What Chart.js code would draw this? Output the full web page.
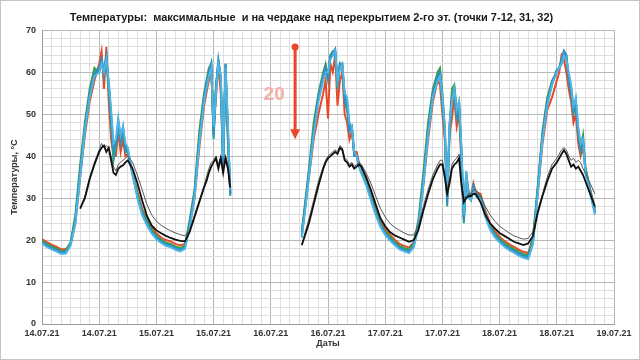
<!DOCTYPE html>
<html lang="ru">
<head>
<meta charset="utf-8">
<title>Температуры</title>
<script src="https://cdn.jsdelivr.net/npm/chart.js@4.4.1/dist/chart.umd.min.js"></script>
<style>
  html, body { margin: 0; padding: 0; background: #fff; }
  #wrap { width: 638px; height: 358px; border: 1px solid #c4c4c4; }
</style>
</head>
<body>
<div id="wrap"><canvas id="tempChart" width="638" height="358"></canvas></div>
<script>
// Время, часы от 14.07.21 00:00
const hours = [
  0, 1, 2, 3, 4, 5, 6, 7, 8, 9, 10, 11, 12,
  12.5, 13, 13.5, 14, 14.5, 15, 15.5, 16, 16.5, 17, 17.5,
  18, 19, 20, 21, 22, 23, 24, 25, 26, 27, 28, 29, 30, 31, 32, 33, 34,
  34.5, 35, 35.5, 36, 36.5, 37, 37.5, 38, 38.5, 39, 39.5,
  47,
  54.5, 55, 56, 57, 58, 59,
  59.5, 60, 60.5, 61, 61.5, 62, 62.5, 63, 63.5, 64, 64.5, 65, 65.5, 66, 66.5,
  67, 68, 69, 70, 71, 72, 73, 74, 75, 76, 77, 78, 79, 80, 81, 82, 83,
  83.5, 84, 84.5, 85, 85.5, 86, 86.5, 87, 87.5, 88, 88.5, 89, 89.5, 90, 90.5,
  91, 92, 93, 94, 95, 96, 97, 98, 99, 100, 101, 102, 103, 104, 105, 106, 107, 108,
  108.5, 109, 109.5, 110, 110.5, 111, 111.5, 112, 112.5, 113, 113.5,
  114, 115, 116
];

// Подписи оси X (каждые 12 часов)
const dateLabels = ["14.07.21", "14.07.21", "15.07.21", "15.07.21", "16.07.21", "16.07.21",
  "17.07.21", "17.07.21", "18.07.21", "18.07.21", "19.07.21"];

const t7 = [
  20.2, 19.5, 18.9, 18.4, 17.8, 17.8, 19.0, 24, 35, 45, 53, 58, 62,
  65, 56, 66, 53, 44, 40, 40, 46, 41, 44, 40,
  40.5, 36, 31.5, 27.5, 25, 23, 21.6, 20.6, 20, 19.7, 19.1, 18.7, 19.1, 23.5, 30, 42, 52,
  55, 58, 61, 46, 54, 62, 55, 39, 60, 44, 31,
  null,
  22, 26, 35, 44, 50, 55,
  58, 49, 62, 60, 64, 52, 58, 60, 50, 48, 44, 46, 41, 41, 38.5,
  37, 34.5, 31, 27.5, 24.6, 22.6, 21.3, 20.1, 19.1, 18.6, 18.2, 19.5, 24, 33, 44, 53, 58,
  57, 50, 44, 30, 45, 49, 54, 47, 50, 38, 25.5, 35.5, 31.5, 30.5, 33.5,
  31.5, 31, 27, 24, 22.1, 20.8, 19.8, 19, 18.4, 17.7, 17.2, 16.9, 20.5, 31, 43, 51, 54, 58,
  60, 64, 63, 60, 56, 53, 48, 50, 43, 40, 42,
  37, 32, 27
];
const t8 = [
  19.9, 19.1, 18.5, 18.0, 17.4, 17.5, 19.5, 26, 38, 48, 56, 61, 60,
  62, 60, 63, 57, 48, 40, 43, 47, 44, 46, 42,
  41, 36, 31, 27, 24.6, 22.5, 21.1, 20.1, 19.4, 19.1, 18.5, 18.1, 18.7, 25, 32, 46, 55,
  58, 61, 62, 46, 57, 62, 59, 38, 61, 46, 31,
  null,
  22, 27, 37, 48, 55, 60,
  62, 59, 64, 65, 65, 57, 62, 61, 54, 52, 47, 47, 41, 40, 38,
  36.5, 34, 30.5, 27, 24, 22, 20.8, 19.6, 18.6, 18.1, 17.7, 19.3, 25, 36, 48, 56, 60,
  61, 55, 47, 30, 47, 56, 57, 51, 53, 41, 25, 35, 31, 30, 33,
  31, 30.5, 26.5, 23.5, 21.5, 20.3, 19.3, 18.5, 17.9, 17.2, 16.7, 16.4, 20.5, 33, 46, 54, 58, 60,
  61, 62, 64, 63, 59, 55, 51, 52, 46, 42, 45,
  37.5, 32, 27.5
];
const t9 = [
  19.6, 18.8, 18.2, 17.7, 17.1, 17.2, 19.1, 25, 36, 46, 55, 60, 61,
  63, 59, 64, 56, 48, 39, 42, 48, 43, 46, 41,
  41, 36, 30.5, 26.5, 24, 22, 20.7, 19.7, 19, 18.7, 18.1, 17.7, 18.3, 24, 31, 44, 54,
  57, 60, 62, 44, 56, 63, 58, 36, 62, 44, 30.5,
  null,
  21, 26, 36, 46, 54, 59,
  61, 58, 64, 64, 65, 56, 62, 62, 53, 51, 46, 47, 40, 40, 37.5,
  36, 33.5, 30, 26.5, 23.6, 21.7, 20.4, 19.2, 18.2, 17.7, 17.3, 18.8, 24, 34, 46, 55, 59,
  60, 52, 46, 28, 46, 54, 55, 49, 52, 40, 24, 34.5, 30.5, 29.5, 32.5,
  30.5, 30, 26, 23, 21.2, 19.9, 18.9, 18.1, 17.5, 16.8, 16.3, 16.0, 19.5, 32, 45, 53, 57, 60.5,
  61, 63, 65, 64, 58, 55, 50, 52, 45, 41, 44,
  36.5, 31.5, 26.5
];
const t10 = [
  19.5, 18.7, 18.1, 17.6, 17.0, 17.1, 19.0, 25, 36, 47, 55, 59, 61,
  63, 60, 64, 57, 50, 42, 43, 48, 44, 47, 42,
  41, 35.5, 30.5, 26.5, 24, 22, 20.6, 19.6, 18.9, 18.6, 18, 17.6, 18.2, 24, 31, 44, 54,
  57, 60, 62, 45, 56, 63, 59, 38, 62, 46, 31,
  null,
  21, 26, 36, 46, 54, 59,
  61, 59, 64, 64.5, 65.5, 57, 62, 62, 54, 53, 46, 47, 40, 40, 38,
  36, 33.5, 30, 26.5, 23.5, 21.6, 20.3, 19.1, 18.1, 17.6, 17.2, 18.7, 24, 34, 46, 55, 59,
  60, 53, 46, 29, 47, 54, 56, 50, 52, 41, 25, 36, 31, 30, 33,
  31, 30, 26, 23, 21.1, 19.8, 18.8, 18, 17.4, 16.7, 16.2, 15.9, 19.5, 32, 45, 53, 57.5, 60.5,
  61, 63, 65, 64, 59, 56, 51, 53, 46, 42, 44,
  36.5, 31.5, 26.5
];
const t11 = [
  19.2, 18.4, 17.8, 17.3, 16.7, 16.8, 18.7, 24, 35, 46, 54, 59, 60,
  62, 60, 63, 58, 51, 43, 44, 49, 45, 47, 43,
  42, 36, 30, 26, 23.5, 21.6, 20.2, 19.3, 18.6, 18.3, 17.7, 17.3, 17.9, 23, 30, 43, 53,
  56, 59, 61, 47, 55, 62, 59, 40, 61, 48, 32,
  null,
  20.5, 25, 35, 45, 53, 58,
  60, 60, 63, 64, 65, 58, 61, 62, 55, 54, 48, 47, 41, 40, 38,
  36, 33, 29.5, 26, 23.1, 21.2, 19.9, 18.8, 17.8, 17.3, 16.9, 18.3, 23, 33, 45, 54, 58,
  59, 54, 47, 30, 48, 53, 56, 51, 53, 42, 26, 36.5, 30, 29.5, 32,
  30.5, 29.5, 25.5, 22.5, 20.7, 19.4, 18.4, 17.6, 17, 16.3, 15.8, 15.5, 19, 31, 44, 52, 57, 60,
  61, 62, 64, 63, 60, 57, 52, 54, 47, 43, 44,
  36, 31, 26
];
const t31 = [
  null, null, null, null, null, null, null, null, 27.5, 30, 34.5, 38, 41,
  42, 42.5, 41, 42, 39, 36, 35.5, 37, 37.5, 37.8, 38.5,
  39, 37, 33.6, 29.5, 25.8, 23.5, 22.3, 21.6, 21, 20.5, 20.1, 19.8, 19.7, 22, 25.5, 29, 32.5,
  34, 36, 37.5, 38.5, 39.5, 37, 39.5, 36, 39.5, 37, 32.5,
  null,
  18.8, 20.5, 24, 28.5, 33, 37,
  38.5, 39.5, 40, 40.5, 41, 40.5, 42, 41.5, 39, 38.5, 37.5, 38, 37, 37.5, 38,
  37.5, 35, 32, 28.5, 25.2, 23.3, 21.9, 21.1, 20.6, 20.1, 19.6, 20, 22.5, 27, 31, 34.5, 37,
  38, 38, 35, 31, 33.5, 37, 38, 38.5, 39.5, 33, 29, 30, 30.5, 30.5, 31,
  31, 29, 26, 24, 22.8, 21.7, 21, 20.3, 19.6, 19.2, 18.8, 19.2, 21, 26.5, 30.5, 34, 37, 38.5,
  39.5, 40.5, 41.4, 40.5, 39, 37.5, 38, 37, 37.5, 36.5, 35.5,
  34, 31, 28
];
const t32 = [
  null, null, null, null, null, null, null, null, 27.5, 30.5, 35, 38.5, 41.5,
  43, 42, 42.5, 42, 40, 37.5, 36.5, 38, 38.5, 39, 39.5,
  40, 38.5, 35.5, 32, 28.5, 26, 24.5, 23.5, 22.8, 22.2, 21.7, 21.3, 21, 22.5, 26, 29.5, 33,
  35, 37, 38.5, 39, 40, 38, 40, 37, 40, 38, 34,
  null,
  18.8, 21, 25, 29.5, 34, 37.5,
  39, 40, 40.5, 41, 41.5, 41, 42.5, 42, 39.5, 39, 38, 38.5, 37.5, 38, 38.5,
  38, 36, 33.5, 30.5, 27.5, 25.5, 24, 23, 22.3, 21.7, 21.2, 21.2, 23.5, 28, 32, 35.5, 38,
  39, 39, 36, 32, 34.5, 38, 39, 39.5, 40.5, 34, 30, 30.5, 31, 31, 32,
  32, 30.5, 28, 26, 24.5, 23.3, 22.5, 21.7, 21, 20.6, 20.2, 20.4, 22, 27, 31, 35, 38, 39.5,
  40.5, 41.5, 42, 41.5, 40, 39, 39.5, 38.5, 39, 38.5, 37,
  36, 33.5, 31
];

// Стрелка-пометка "20"
const arrowAt = 53.1, arrowFrom = 66, arrowTo = 44;
const noteText = "20", noteAt = 48.7, noteY = 54.5;

document.addEventListener("DOMContentLoaded", function () {
  const pts = (arr) => hours.map((h, i) => ({ x: h, y: arr[i] }));
  const line = (label, arr, color, width) => ({
    label: label,
    data: pts(arr),
    borderColor: color,
    borderWidth: width,
    pointRadius: 0,
    tension: 0,
    fill: false,
  });

  const arrowPlugin = {
    id: "arrow",
    afterDatasetsDraw(chart) {
      const { ctx, scales } = chart;
      const x = scales.x.getPixelForValue(arrowAt);
      const y1 = scales.y.getPixelForValue(arrowFrom);
      const y2 = scales.y.getPixelForValue(arrowTo);
      ctx.save();
      ctx.strokeStyle = "#e8472b";
      ctx.fillStyle = "#e8472b";
      ctx.lineWidth = 3;
      ctx.beginPath();
      ctx.moveTo(x, y1);
      ctx.lineTo(x, y2 - 8);
      ctx.stroke();
      ctx.beginPath();
      ctx.arc(x, y1, 3.5, 0, Math.PI * 2);
      ctx.fill();
      ctx.beginPath();
      ctx.moveTo(x - 5, y2 - 10);
      ctx.lineTo(x + 5, y2 - 10);
      ctx.lineTo(x, y2);
      ctx.closePath();
      ctx.fill();
      ctx.fillStyle = "#f5aea3";
      ctx.font = "bold 19px 'Liberation Sans', Arial, sans-serif";
      ctx.textAlign = "center";
      ctx.textBaseline = "middle";
      ctx.fillText(noteText, scales.x.getPixelForValue(noteAt), scales.y.getPixelForValue(noteY));
      ctx.restore();
    },
  };

  const font = { family: "'Liberation Sans', Arial, sans-serif", weight: "bold", size: 9 };

  new Chart(document.getElementById("tempChart").getContext("2d"), {
    type: "line",
    data: {
      datasets: [
        line("31", t31, "#111111", 1.8),
        line("32", t32, "#555555", 1),
        line("11", t11, "#4db5e6", 2),
        line("10", t10, "#2f8cc8", 2),
        line("9", t9, "#2a9c9c", 2),
        line("8", t8, "#3f9e45", 2),
        line("7", t7, "#e8492a", 2),
      ],
    },
    plugins: [arrowPlugin],
    options: {
      responsive: false,
      animation: false,
      devicePixelRatio: 1,
      layout: { padding: { left: 8, right: 25, top: 0, bottom: 10 } },
      plugins: {
        legend: { display: false },
        tooltip: { enabled: false },
        title: {
          display: true,
          text: "Температуры:  максимальные  и на чердаке над перекрытием 2-го эт. (точки 7-12, 31, 32)",
          color: "#1a1a1a",
          font: { family: font.family, weight: "bold", size: 11, lineHeight: 1.2 },
          padding: { top: 10, bottom: 6 },
        },
      },
      scales: {
        x: {
          type: "linear",
          min: 0,
          max: 120,
          afterFit: (s) => { s.height = 25; },
          border: { color: "#9a9a9a" },
          grid: {
            drawTicks: false,
            color: (c) => (c.tick && c.tick.value % 12 === 0 ? "#b8b8b8" : "#dedede"),
          },
          ticks: {
            stepSize: 2,
            autoSkip: false,
            maxRotation: 0,
            padding: 4,
            color: "#333",
            font: font,
            callback: (v) => (v % 12 === 0 ? dateLabels[v / 12] : ""),
          },
          title: { display: true, text: "Даты", color: "#333", font: font, padding: 0 },
        },
        y: {
          min: 0,
          max: 70,
          afterFit: (s) => { s.width = 33; },
          border: { color: "#9a9a9a" },
          grid: {
            drawTicks: false,
            color: (c) => (c.tick && c.tick.value % 10 === 0 ? "#b8b8b8" : "#dedede"),
          },
          ticks: {
            stepSize: 2,
            autoSkip: false,
            padding: 6,
            color: "#333",
            font: font,
            callback: (v) => (v % 10 === 0 ? v : ""),
          },
          title: { display: true, text: "Температуры, °С", color: "#333", font: font, padding: 0 },
        },
      },
    },
  });
});
</script>
</body>
</html>
